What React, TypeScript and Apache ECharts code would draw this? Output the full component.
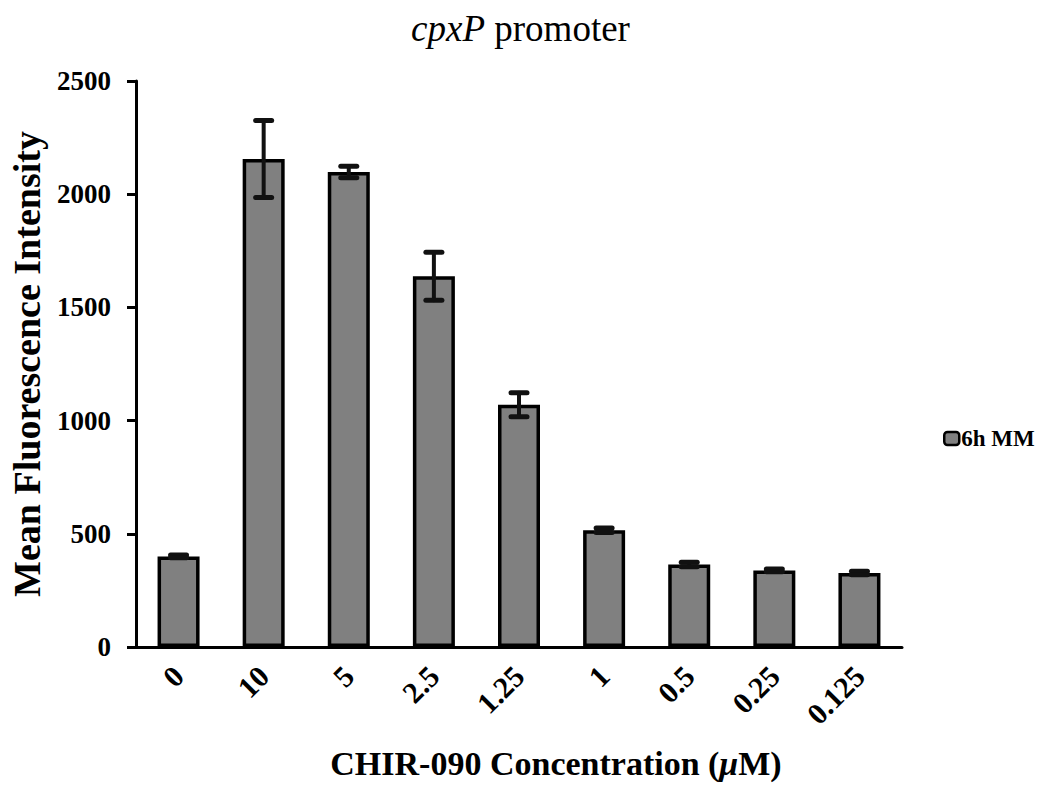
import React, { useEffect, useRef } from "react";
import * as echarts from "echarts";

const categories = ["0", "10", "5", "2.5", "1.25", "1", "0.5", "0.25", "0.125"];
const meanValues = [400, 2155, 2098, 1638, 1070, 516, 364, 338, 327];
const errorValues = [6, 170, 25, 106, 53, 10, 10, 6, 8];
const yTicks = { min: 0, max: 2500, interval: 500 };
const seriesName = "6h MM";

const FONT = "'Liberation Serif', 'Times New Roman', serif";

export default function App() {
  const ref = useRef<HTMLDivElement>(null);

  useEffect(() => {
    if (!ref.current) return;
    const chart = echarts.init(ref.current, null, { renderer: "svg" });
    const errData = categories.map((_, i) => [
      i,
      meanValues[i] - errorValues[i],
      meanValues[i] + errorValues[i],
    ]);
    chart.setOption({
      animation: false,
      backgroundColor: "#ffffff",
      title: {
        text: "{i|cpxP} promoter",
        left: "center",
        top: 10,
        padding: 0,
        textStyle: {
          fontFamily: FONT,
          fontSize: 37,
          fontWeight: "normal",
          color: "#000",
          rich: {
            i: { fontFamily: FONT, fontSize: 37, fontStyle: "italic", color: "#000" },
          },
        },
      },
      legend: {
        data: [seriesName],
        left: 943,
        top: 427,
        padding: 0,
        icon: "roundRect",
        itemWidth: 15,
        itemHeight: 13,
        itemStyle: { color: "#808080", borderColor: "#000", borderWidth: 2.5 },
        textStyle: { fontFamily: FONT, fontSize: 23, fontWeight: "bold", color: "#000", padding: [0, 0, 0, -3] },
      },
      grid: { left: 133, right: 139, top: 81, bottom: 142, containLabel: false },
      xAxis: {
        type: "category",
        data: categories,
        name: "{r|CHIR-090 Concentration (}{i|\u03bc}{r|M)}",
        nameLocation: "middle",
        nameGap: 99,
        nameTextStyle: {
          fontFamily: FONT,
          fontSize: 34,
          fontWeight: "bold",
          color: "#000",
          padding: [0, 0, 0, 74],
          rich: {
            r: { fontFamily: FONT, fontSize: 34, fontWeight: "bold", color: "#000" },
            i: { fontFamily: FONT, fontSize: 34, fontWeight: "bold", fontStyle: "italic", color: "#000" },
          },
        },
        axisLine: { lineStyle: { color: "#000", width: 3 } },
        axisTick: { show: false },
        axisLabel: {
          rotate: 45,
          margin: 24,
          interval: 0,
          fontFamily: FONT,
          fontSize: 30,
          fontWeight: "bold",
          color: "#000",
        },
      },
      yAxis: {
        type: "value",
        min: yTicks.min,
        max: yTicks.max,
        interval: yTicks.interval,
        name: "Mean Fluorescence Intensity",
        nameLocation: "middle",
        nameGap: 90,
        nameTextStyle: { fontFamily: FONT, fontSize: 38, fontWeight: "bold", color: "#000" },
        axisLine: { show: true, lineStyle: { color: "#000", width: 3 } },
        axisTick: { show: true, inside: false, length: 9, lineStyle: { color: "#000", width: 3 } },
        splitLine: { show: false },
        axisLabel: {
          margin: 25,
          fontFamily: FONT,
          fontSize: 27,
          fontWeight: "bold",
          color: "#000",
          formatter: (v: number) => String(v),
        },
      },
      series: [
        {
          name: seriesName,
          type: "bar",
          data: meanValues,
          barWidth: 42,
          itemStyle: { color: "#808080", borderColor: "#000", borderWidth: 3.5 },
          z: 2,
        },
        {
          name: "error",
          type: "custom",
          data: errData,
          encode: { x: 0, y: [1, 2] },
          z: 5,
          renderItem: (params: any, api: any) => {
            const x = api.value(0);
            const pLo = api.coord([x, api.value(1)]);
            const pHi = api.coord([x, api.value(2)]);
            const half = 8;
            const style = { stroke: "#111", lineWidth: 4, lineCap: "round" };
            return {
              type: "group",
              children: [
                { type: "line", shape: { x1: pHi[0], y1: pHi[1], x2: pLo[0], y2: pLo[1] }, style },
                { type: "line", shape: { x1: pHi[0] - half, y1: pHi[1], x2: pHi[0] + half, y2: pHi[1] }, style: { ...style, lineWidth: 5 } },
                { type: "line", shape: { x1: pLo[0] - half, y1: pLo[1], x2: pLo[0] + half, y2: pLo[1] }, style: { ...style, lineWidth: 5 } },
              ],
            };
          },
        },
      ],
    });
    return () => chart.dispose();
  }, []);

  return (
    <div
      ref={ref}
      style={{ position: "fixed", left: 0, top: 0, width: 1041, height: 789, background: "#fff" }}
    />
  );
}
